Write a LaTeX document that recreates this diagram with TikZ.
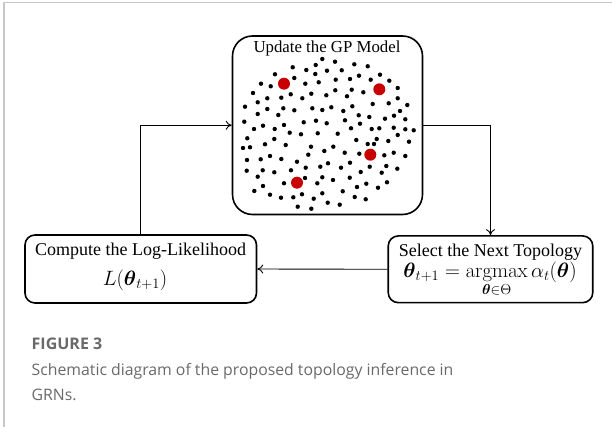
\documentclass[tikz,border=0pt]{standalone}
\usepackage{amsmath}
\usepackage[no-math]{fontspec}
\setmainfont{Liberation Serif}
\newfontfamily\capfont{Open Sans}
\usetikzlibrary{arrows.meta}
\definecolor{framegray}{RGB}{200,200,200}
\definecolor{capgray}{RGB}{105,105,105}
\definecolor{dotred}{RGB}{200,0,0}
\tikzset{
  box/.style={draw, line width=1.6pt, inner sep=0pt},
  flow/.style={draw, line width=0.9pt, -{To[length=6pt,width=9pt]}},
  bigtext/.style={anchor=base, inner sep=0pt, font=\fontsize{18}{22}\selectfont},
  mathtext/.style={anchor=base, inner sep=0pt, font=\fontsize{21.5}{24}\selectfont},
  gpdot/.style={fill=black},
  hotdot/.style={fill=dotred},
  captext/.style={anchor=base west, text=capgray, inner sep=0pt, font=\capfont\fontsize{15.8}{20}\selectfont}
}
\begin{document}
\begin{tikzpicture}[x=1pt,y=-1pt]
\useasboundingbox (0,0) rectangle (612,427);
% page frame
\draw[framegray, line width=1.5pt] (4,427) -- (4,2.5) -- (612,2.5);

% the three stages
\node[box, rounded corners=20pt, minimum width=190pt, minimum height=178.5pt] (gp) at (327.5,125.25) {};
\node[anchor=base, inner sep=0pt, font=\fontsize{16.8}{20}\selectfont] (gptitle) at (327,52.5) {Update the GP Model};

\node[box, rounded corners=10pt, minimum width=231.5pt, minimum height=68pt] (ll) at (140.75,269) {};
\node[bigtext] (llhead) at (140.5,256) {Compute the Log-Likelihood};
\node[mathtext] (llmath) at (135,285) {$L(\boldsymbol{\theta}_{t+1})$};

\node[box, rounded corners=10pt, minimum width=204.5pt, minimum height=66.7pt] (sel) at (490.5,269.3) {};
\node[bigtext] (selhead) at (490.5,256.7) {Select the Next Topology};
\node[mathtext] (selmath) at (490,277) {$\displaystyle \boldsymbol{\theta}_{t+1} = \operatorname*{argmax}_{\boldsymbol{\theta}\in\Theta}\alpha_t(\boldsymbol{\theta})$};

% sampled points of the surrogate
\foreach \px/\py in {
322.3/59, 292.7/67.3, 315.7/65, 306.3/70, 327/70.7, 315.3/74, 275/74.3, 294.3/78,
261/83.7, 270.7/86.3, 305.3/83.7, 318.7/82.3, 253/93, 290.7/94.3, 311.3/93.7, 326.3/95.3,
267.3/98.3, 281.3/97.7, 302.3/98.3, 257.7/102.3, 245/106.7, 267.3/109, 283.3/108.3, 312.3/108.3,
322.3/110, 294.3/110.3, 257.7/114, 278.3/115, 244.3/121.7, 316/120.7, 303.7/122.3, 326.7/123.3,
263/125.7, 284/125, 254/129, 274.7/129, 289.7/132.7, 301/134.3, 317.7/133.3,
335/61.7, 354.3/64.3, 367.7/66.3, 341.7/70.3, 359/75.7, 380/74.7, 335.7/79.7, 350/79,
370.7/79.7, 389.3/80.7, 335.3/90.3, 351.7/89.7, 363.3/92.3, 397.7/88, 347/96.3, 397.7/98.3,
372.7/104, 388.7/103.3, 407.3/105, 331.3/107.3, 352.3/106.3, 343.3/111, 400/111, 358.7/115.3,
369.3/117, 394/115.7, 385/118.7, 345/120.3, 405.3/119.3, 360/123.7, 351/128.3, 371.7/129,
379.3/128.3, 393.7/127.7, 405.3/129.3, 413.7/130.3, 337.7/133.7, 397.7/135,
247.3/138.3, 274.3/139, 243/148, 250/147.3, 265/144.3, 285.7/145, 311/146.7, 324.3/151,
247/160, 260.7/159.3, 270/156, 281.3/159, 308.3/154.7, 297/161.7, 328/163.3, 246.7/170.7,
262.7/170.3, 274.3/172.3, 291/170.3, 305.7/167.7, 320.3/166.7, 257.7/176.7, 305/178, 322.3/177.3,
284/183.3, 317.3/183.3, 263/186, 254.3/191, 270/194.7, 281/197.7, 293.3/197.3, 302/194.3,
313.7/198.7, 322.3/193.3, 327.7/202.7, 297.7/206.7, 311.3/208.7,
356.3/140, 376.7/139, 367.7/144, 374/144, 388.3/141, 409/141.7, 333.3/146.7, 344.7/152.7,
359.3/153.7, 384.3/155.3, 393.7/152.7, 405.3/156, 350/162.7, 341/167.7, 369.7/166.7, 386.3/166,
397.3/168.7, 360.7/172, 381.7/172.7, 333/180, 349.7/177.7, 366.3/183.7, 387/182.3, 357/187,
378/187.7, 342.7/191.3, 354.7/197, 365.7/199.3, 339.7/204.7}
  \fill[gpdot] (\px,\py) circle[radius=2.2pt];
\foreach \px/\py in {284/83.7, 379.3/89.3, 370.3/154.7, 297/182.7}
  \fill[hotdot] (\px,\py) circle[radius=6pt];

% connectors
\draw[flow] (ll.north) |- (gp.west);
\draw[flow] (gp.east) -| (sel.north);
\draw[flow] (sel.west) -- (ll.east);

% caption
\node[captext, font=\capfont\bfseries\fontsize{16}{20}\selectfont] (capnum) at (31.5,349.5) {FIGURE 3};
\node[captext] (capline1) at (31.5,375) {Schematic diagram of the proposed topology inference in};
\node[captext] (capline2) at (31.5,400) {GRNs.};
\end{tikzpicture}
\end{document}
